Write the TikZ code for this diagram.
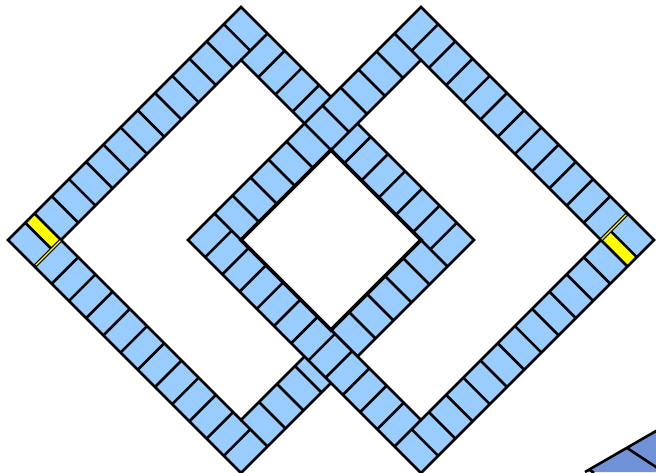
\documentclass[tikz,border=0pt]{standalone}
\definecolor{cellblue}{RGB}{153,204,255}
\definecolor{darkblue}{RGB}{112,146,216}
\definecolor{startyellow}{RGB}{255,255,0}
\def\hh{164.76}
\def\hi{127.28}
\def\cc{24.34}
\def\cb{25.456}
\tikzset{
  sep/.style={draw=black, line width=2.6pt},
  ringline/.style={draw=black, line width=2.6pt, line join=miter},
  centreline/.style={draw=black, line width=3.8pt, line join=miter},
}
\newcommand{\myring}{%
  \fill[cellblue,even odd rule] (-\hh,-\hh) rectangle (\hh,\hh) (-\hi,-\hi) rectangle (\hi,\hi);
  \fill[startyellow] (-\hh+\cc,\hi) rectangle (-\hi,\hh);
  % top strip
  \draw[sep] (-\hh+\cc,\hi) -- (-\hh+\cc,\hh);
  \draw[sep] (-\hi,\hi) -- (-\hi,\hh);
  \foreach \k in {1,...,11} {\draw[sep] (-\hi+\k*\cc,\hi) -- (-\hi+\k*\cc,\hh);}
  % left and right strips
  \foreach \k in {1,...,11} {
    \draw[sep] (-\hh,\hi-\k*\cc) -- (-\hi,\hi-\k*\cc);
    \draw[sep] (\hi,\hi-\k*\cc) -- (\hh,\hi-\k*\cc);
  }
  % bottom strip
  \foreach \k in {1,...,9} {\draw[sep] (-\hi+\k*\cb,-\hh) -- (-\hi+\k*\cb,-\hi);}
  % strip separators
  \draw[sep] (\hi,\hi) -- (\hh,\hi);
  \draw[sep] (-\hi,-\hh) -- (-\hi,-\hi);
  \draw[sep] (\hi,-\hh) -- (\hi,-\hi);
  % outlines
  \draw[ringline] (-\hh,-\hh) rectangle (\hh,\hh);
  \draw[ringline] (-\hi,-\hi) rectangle (\hi,\hi);
  % start line
  \draw[black, line width=3.8pt] (-\hh,\hi) -- (-\hi,\hi);
  \draw[startyellow, line width=1.4pt] (-\hh+1.8,\hi) -- (-\hi-1,\hi);
}
\begin{document}
\begin{tikzpicture}[x=1pt,y=1pt]
  \useasboundingbox (0,0) rectangle (656,472);
  \begin{scope}
    \clip (0,0) rectangle (656,472);
    \begin{scope}[shift={(241,232)}, rotate=45]
      \myring
    \end{scope}
    \begin{scope}[shift={(421,232)}, rotate=225]
      \myring
    \end{scope}
    \coordinate (cl) at (241,232);
    \coordinate (ct) at (331,322);
    \coordinate (cr) at (421,232);
    \coordinate (cbm) at (331,142);
    \draw[centreline] (cl) -- (ct) -- (cr) -- (cbm) -- cycle;
    \fill[darkblue] (585,0) -- (660,43.3) -- (660,0) -- cycle;
    \draw[sep] (585,0) -- (660,43.3);
    \draw[sep] (627,24) -- (660,2.4);
    \draw[sep] (589,2.7) -- (594,-1);
  \end{scope}
\end{tikzpicture}
\end{document}
